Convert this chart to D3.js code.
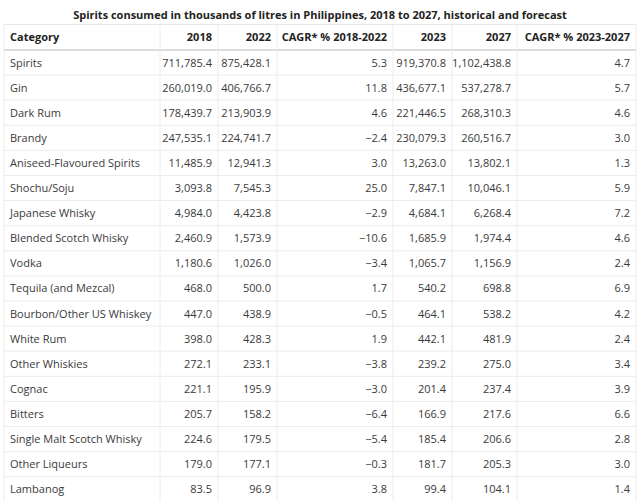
<!DOCTYPE html>
<html><head><meta charset="utf-8">
<script src="https://cdn.jsdelivr.net/npm/d3@7"></script>
<style>
html,body{margin:0;padding:0;background:#fff;}
svg{display:block;font-family:"Open Sans",sans-serif;}
</style></head>
<body>
<script>
const title = "Spirits consumed in thousands of litres in Philippines, 2018 to 2027, historical and forecast";
const headers = ["Category","2018","2022","CAGR* % 2018-2022","2023","2027","CAGR* % 2023-2027"];
const categories = ["Spirits","Gin","Dark Rum","Brandy","Aniseed-Flavoured Spirits","Shochu/Soju","Japanese Whisky","Blended Scotch Whisky","Vodka","Tequila (and Mezcal)","Bourbon/Other US Whiskey","White Rum","Other Whiskies","Cognac","Bitters","Single Malt Scotch Whisky","Other Liqueurs","Lambanog"];
const v2018 = [711785.4,260019.0,178439.7,247535.1,11485.9,3093.8,4984.0,2460.9,1180.6,468.0,447.0,398.0,272.1,221.1,205.7,224.6,179.0,83.5];
const v2022 = [875428.1,406766.7,213903.9,224741.7,12941.3,7545.3,4423.8,1573.9,1026.0,500.0,438.9,428.3,233.1,195.9,158.2,179.5,177.1,96.9];
const cagr1 = [5.3,11.8,4.6,-2.4,3.0,25.0,-2.9,-10.6,-3.4,1.7,-0.5,1.9,-3.8,-3.0,-6.4,-5.4,-0.3,3.8];
const v2023 = [919370.8,436677.1,221446.5,230079.3,13263.0,7847.1,4684.1,1685.9,1065.7,540.2,464.1,442.1,239.2,201.4,166.9,185.4,181.7,99.4];
const v2027 = [1102438.8,537278.7,268310.3,260516.7,13802.1,10046.1,6268.4,1974.4,1156.9,698.8,538.2,481.9,275.0,237.4,217.6,206.6,205.3,104.1];
const cagr2 = [4.7,5.7,4.6,3.0,1.3,5.9,7.2,4.6,2.4,6.9,4.2,2.4,3.4,3.9,6.6,2.8,3.0,1.4];

const W = 640, H = 501;
const colEdges = [4,160,218,277,393,452,517,636];
const fmtNum = d3.format(",.1f");
const fmt = v => fmtNum(v).replace("-", "\u2212");

const rows = categories.map((c,i)=>[c, v2018[i], v2022[i], cagr1[i], v2023[i], v2027[i], cagr2[i]]);

const svg = d3.select("body").append("svg").attr("width",W).attr("height",H);

svg.append("text").attr("x",W/2).attr("y",19).attr("text-anchor","middle")
  .attr("font-size","11px").attr("font-weight","bold").attr("fill","#222").text(title);

const headerTop = 24.5, headerH = 25.5;
const y = d3.scaleBand().domain(d3.range(rows.length)).range([headerTop+headerH, headerTop+headerH+rows.length*25.1]);
const x = i => colEdges[i];

const grid = svg.append("g");
grid.append("line").attr("x1",colEdges[0]).attr("x2",colEdges[7]).attr("y1",headerTop).attr("y2",headerTop).attr("stroke","#e6e6e6");
rows.forEach((r,i)=>{
  const yy = y(i)+y.bandwidth();
  grid.append("line").attr("x1",colEdges[0]).attr("x2",colEdges[7]).attr("y1",yy).attr("y2",yy).attr("stroke","#ececec");
});
grid.append("line").attr("x1",colEdges[0]).attr("x2",colEdges[7]).attr("y1",headerTop+headerH).attr("y2",headerTop+headerH).attr("stroke","#dcdcdc").attr("stroke-width",2);
colEdges.forEach(e=>{
  grid.append("line").attr("x1",e).attr("x2",e).attr("y1",headerTop).attr("y2",H+5).attr("stroke","#ececec");
});

headers.forEach((h,j)=>{
  const left = j===0;
  svg.append("text").attr("x", left ? x(0)+6 : x(j+1)-6).attr("y", headerTop+headerH/2+4)
    .attr("text-anchor", left?"start":"end").attr("font-size","11px").attr("font-weight","bold").attr("fill","#222").text(h);
});

const g = svg.append("g");
rows.forEach((r,i)=>{
  r.forEach((v,j)=>{
    const left = j===0;
    g.append("text").attr("x", left ? x(0)+6 : x(j+1)-6).attr("y", y(i)+y.bandwidth()/2+4)
      .attr("text-anchor", left?"start":"end").attr("font-size","11px").attr("fill","#3a3a3a")
      .text(left ? v : fmt(v));
  });
});
</script>
</body></html>
